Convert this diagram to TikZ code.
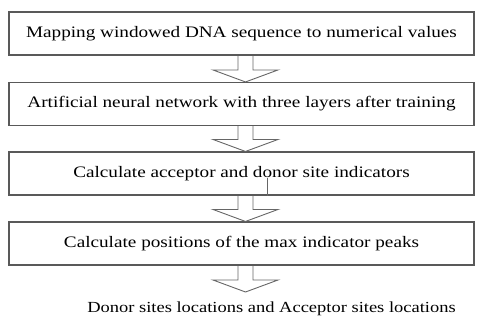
\documentclass[tikz,border=0pt]{standalone}
\usepackage{fontspec}
\setmainfont[FakeStretch=1.2]{Liberation Serif}
\usetikzlibrary{calc}
\tikzset{
  stepbox/.style={draw=black!65, line width=1.1pt, minimum width=465pt, minimum height=43pt, inner sep=0pt, font=\fontsize{16}{18}\selectfont, text=black},
  arr/.style={draw=black!60, line width=0.9pt, line join=miter},
  lbl/.style={font=\fontsize{15.4}{17}\selectfont, text=black, inner sep=0pt}
}
\newcommand\blockarrow[2]{%
  \draw[arr] let \p1=(#1), \p2=(#2) in
    (\x2-7.5pt,\y1) -- (\x2-7.5pt,\y2+12pt) -- (\x2-32.5pt,\y2+12pt) -- (\x2,\y2)
    -- (\x2+32.5pt,\y2+12pt) -- (\x2+7.5pt,\y2+12pt) -- (\x2+7.5pt,\y1);}
\begin{document}
\begin{tikzpicture}[x=1pt,y=-1pt]
\useasboundingbox (0,0) rectangle (480,327);
\node[stepbox] (b1) at (241.5,33.5) {Mapping windowed DNA sequence to numerical values};
\node[stepbox] (b2) at (241.5,104) {Artificial neural network with three layers after training};
\node[stepbox] (b3) at (241.5,173.5) {Calculate acceptor and donor site indicators};
\node[stepbox] (b4) at (241.5,243.5) {Calculate positions of the max indicator peaks};
\node[lbl] (out) at (271.5,309) {Donor sites locations and Acceptor sites locations};
\coordinate (ax) at (245.5,0);
\coordinate (t4) at (245.5,292);
\blockarrow{b1.south -| ax}{b2.north -| ax}
\blockarrow{b2.south -| ax}{b3.north -| ax}
\blockarrow{b3.south -| ax}{b4.north -| ax}
\blockarrow{b4.south -| ax}{t4}
\draw[arr] (267,178) -- (b3.south -| 267,0);
\end{tikzpicture}
\end{document}
